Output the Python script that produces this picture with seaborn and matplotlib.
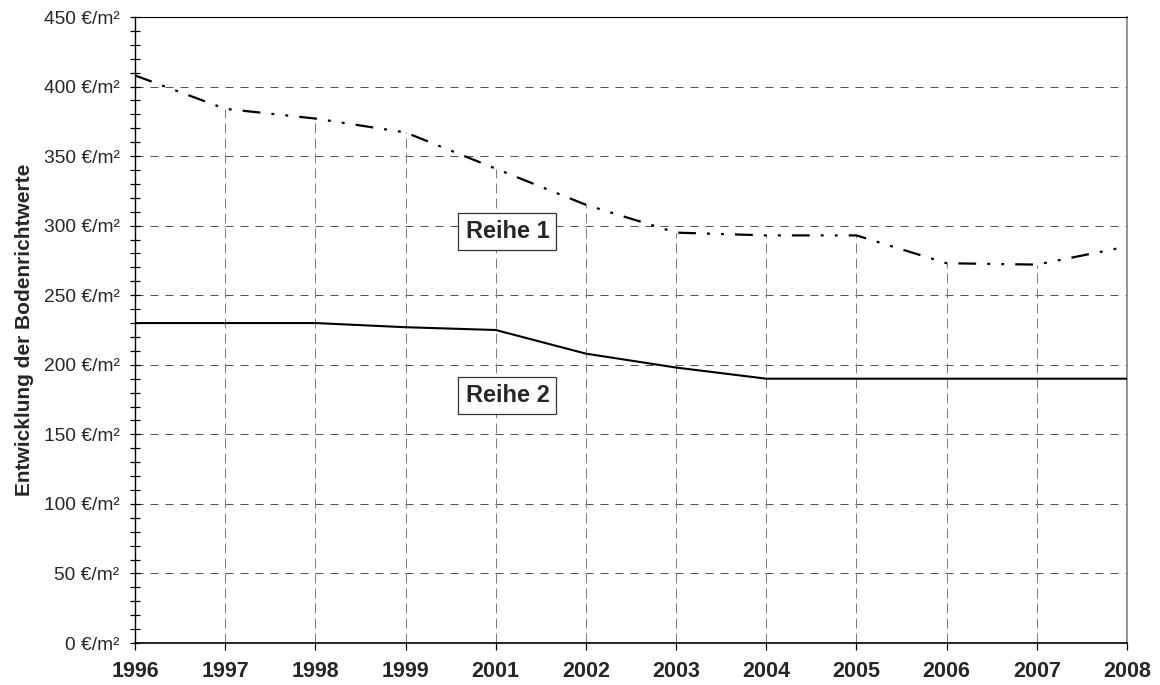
import numpy as np
import pandas as pd
import matplotlib
matplotlib.use("Agg")
import matplotlib.pyplot as plt
from matplotlib.ticker import MultipleLocator, FixedLocator
import seaborn as sns

# Land value development (Bodenrichtwerte), two series
years = ["1996", "1997", "1998", "1999", "2001", "2002", "2003",
         "2004", "2005", "2006", "2007", "2008"]
reihe1 = [408, 384, 377, 367, 341, 315, 295, 293, 293, 273, 272, 285]
reihe2 = [230, 230, 230, 227, 225, 208, 198, 190, 190, 190, 190, 190]
y_ticks = [0, 50, 100, 150, 200, 250, 300, 350, 400, 450]
series_names = ["Reihe 1", "Reihe 2"]

sns.set_theme(style="white")
plt.rcParams["font.family"] = ["Liberation Sans", "DejaVu Sans"]

pos = np.arange(len(years))
df = pd.DataFrame({"pos": pos, "Reihe 1": reihe1, "Reihe 2": reihe2})

fig = plt.figure(figsize=(11.6, 6.85), dpi=100)
ax = fig.add_axes([135 / 1160, 1 - 643 / 685, (1127 - 135) / 1160, (643 - 17) / 685])

# drop lines from each Reihe 1 value to the x axis
ax.vlines(pos, 0, reihe1, colors="#808080", linewidth=0.72,
          linestyles=[(0, (10, 5))], zorder=1)

sns.lineplot(data=df, x="pos", y="Reihe 1", ax=ax, color="black",
             linewidth=1.6, linestyle=(0, (8, 5, 1.3, 5, 1.3, 5)),
             zorder=3)
sns.lineplot(data=df, x="pos", y="Reihe 2", ax=ax, color="black",
             linewidth=1.5, zorder=3)

ax.set_xlim(0, len(years) - 1)
ax.set_ylim(0, 450)

# horizontal grid
ax.yaxis.grid(True, which="major", color="#555555", linewidth=0.72,
              linestyle=(0, (8, 7)), zorder=0)
ax.xaxis.grid(False)
ax.set_axisbelow(True)

ax.xaxis.set_major_locator(FixedLocator(pos))
ax.set_xticklabels(years, fontsize=15.5, fontweight="bold")
ax.yaxis.set_major_locator(FixedLocator(y_ticks))
ax.set_yticklabels([f"{v} €/m²" for v in y_ticks], fontsize=13.8)
ax.yaxis.set_minor_locator(MultipleLocator(10))

ax.tick_params(axis="y", which="both", direction="inout", length=6.5,
               width=0.9, color="black", left=True, pad=8)
ax.tick_params(axis="x", which="major", direction="out", length=5,
               width=0.9, color="black", bottom=True, pad=8)

ax.set_xlabel("")
ax.set_ylabel("Entwicklung der Bodenrichtwerte", fontsize=15,
              fontweight="bold", labelpad=7)

for side in ["left", "bottom", "top"]:
    ax.spines[side].set_color("black")
ax.spines["left"].set_linewidth(1.0)
ax.spines["bottom"].set_linewidth(1.2)
ax.spines["top"].set_linewidth(0.8)
ax.spines["right"].set_color("#808080")
ax.spines["right"].set_linewidth(1.2)

box = dict(boxstyle="square,pad=0.3", facecolor="white",
           edgecolor="#333333", linewidth=0.9)
ax.text(4.13, 296, series_names[0], fontsize=17, fontweight="bold",
        ha="center", va="center", bbox=box, zorder=4)
ax.text(4.13, 178, series_names[1], fontsize=17, fontweight="bold",
        ha="center", va="center", bbox=box, zorder=4)

fig.savefig("out.png", dpi=100, facecolor="white")
